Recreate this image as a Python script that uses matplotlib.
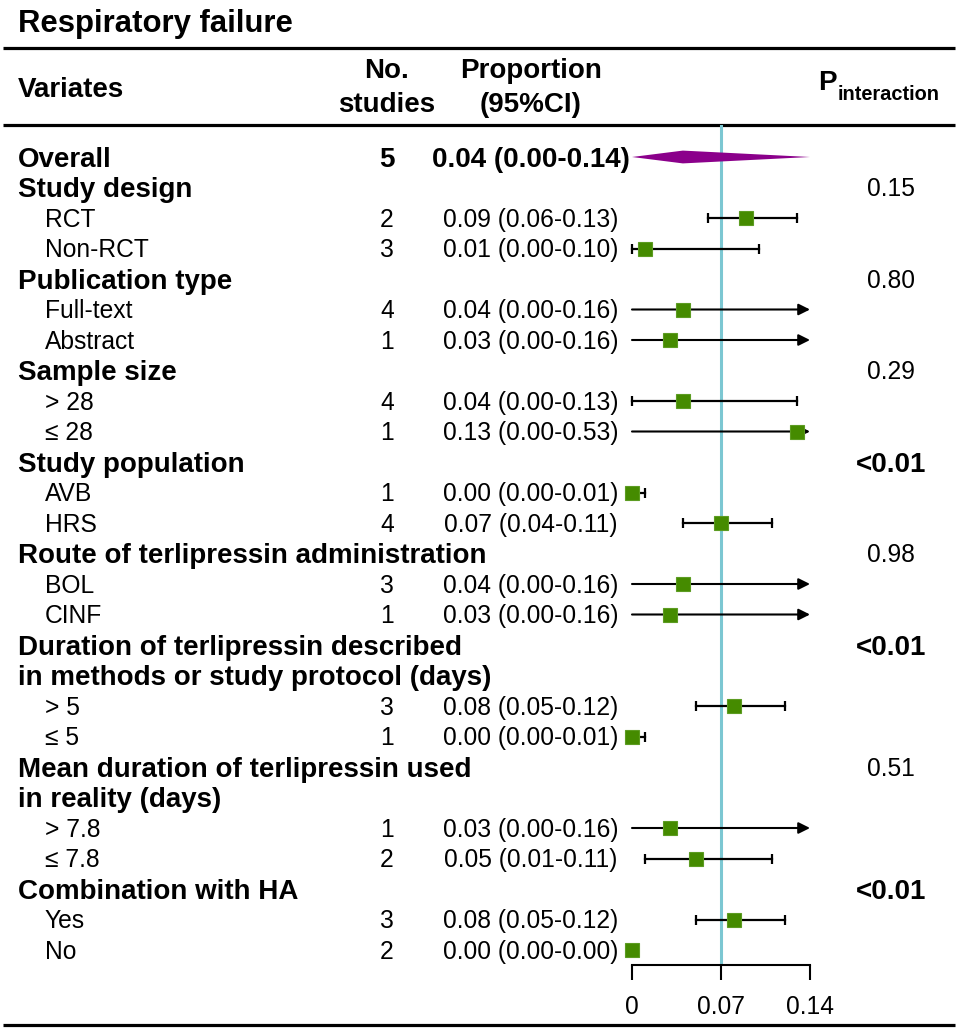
import matplotlib
matplotlib.use('Agg')
import matplotlib.pyplot as plt
from matplotlib.patches import Polygon

plt.rcParams['font.family'] = ['Liberation Sans', 'DejaVu Sans']

# ---------------- data ----------------
title = "Respiratory failure"
overall_label = "Overall"
overall_n = 5
overall_est, overall_lo, overall_hi = 0.04, 0.00, 0.14

groups = ["Study design", "Publication type", "Sample size", "Study population",
          "Route of terlipressin administration",
          "Duration of terlipressin described\nin methods or study protocol (days)",
          "Mean duration of terlipressin used\nin reality (days)",
          "Combination with HA"]
group_p = ["0.15", "0.80", "0.29", "<0.01", "0.98", "<0.01", "0.51", "<0.01"]
sub_labels = [["RCT", "Non-RCT"], ["Full-text", "Abstract"], ["> 28", "≤ 28"],
              ["AVB", "HRS"], ["BOL", "CINF"], ["> 5", "≤ 5"], ["> 7.8", "≤ 7.8"],
              ["Yes", "No"]]
sub_n = [[2, 3], [4, 1], [4, 1], [1, 4], [3, 1], [3, 1], [1, 2], [3, 2]]
sub_est = [[0.09, 0.01], [0.04, 0.03], [0.04, 0.13], [0.00, 0.07],
           [0.04, 0.03], [0.08, 0.00], [0.03, 0.05], [0.08, 0.00]]
sub_lo = [[0.06, 0.00], [0.00, 0.00], [0.00, 0.00], [0.00, 0.04],
          [0.00, 0.00], [0.05, 0.00], [0.00, 0.01], [0.05, 0.00]]
sub_hi = [[0.13, 0.10], [0.16, 0.16], [0.13, 0.53], [0.01, 0.11],
          [0.16, 0.16], [0.12, 0.01], [0.16, 0.11], [0.12, 0.00]]
xticks = [0, 0.07, 0.14]
xtick_labels = ["0", "0.07", "0.14"]
ref_value = 0.07
x_min, x_max = 0.0, 0.14

# ---------------- layout ----------------
W, H = 960, 1034
ROW0, ROWH = 157, 30.5
FS_N, FS_B, FS_T = 17.7, 20.0, 22.4
X_GROUP, X_SUB, X_N, X_PROP, X_P = 18, 45, 387, 531, 891
AX_L, AX_R, AX_T, AX_B = 632, 810, 125, 965
SQ = '#458B00'
DIAM = '#8B008B'
REF = '#7cc7d2'

fig = plt.figure(figsize=(W / 100, H / 100), dpi=100)
bg = fig.add_axes([0, 0, 1, 1])
bg.set_xlim(0, W)
bg.set_ylim(H, 0)
bg.axis('off')

ax = fig.add_axes([AX_L / W, 1 - AX_B / H, (AX_R - AX_L) / W, (AX_B - AX_T) / H])
ax.set_xlim(x_min, x_max)
ax.set_ylim((AX_B - ROW0) / ROWH, (AX_T - ROW0) / ROWH)
ax.patch.set_alpha(0)
for s in ['top', 'left', 'right']:
    ax.spines[s].set_visible(False)
ax.spines['bottom'].set_linewidth(1.5)
ax.spines['bottom'].set_bounds(x_min, x_max)
ax.set_yticks([])
ax.set_xticks(xticks)
ax.set_xticklabels(xtick_labels)
ax.tick_params(axis='x', length=10.8, width=1.5, pad=10.5, labelsize=FS_N)
ax.axvline(ref_value, color=REF, lw=2.2, zorder=0)


def ypix(i):
    return ROW0 + ROWH * i


def txt(x, i, s, bold=False, ha='left'):
    fs = FS_B if bold else FS_N
    off = (fs * 100 / 72) * 0.716 / 2
    bg.text(x, ypix(i) + off, s, fontsize=fs, fontweight='bold' if bold else 'normal',
            ha=ha, va='baseline', color='black')


def fmt(e, l, h):
    return f"{e:.2f} ({l:.2f}-{h:.2f})"


# header
bg.text(X_GROUP, 32, title, fontsize=FS_T, fontweight='bold', va='baseline')
for yy in (48, 125, 1025):
    bg.plot([3, 955], [yy, yy], color='black', lw=2.3, solid_capstyle='butt')
bg.text(X_GROUP, 97, "Variates", fontsize=FS_B, fontweight='bold', va='baseline')
bg.text(X_N, 78, "No.", fontsize=FS_B, fontweight='bold', ha='center', va='baseline')
bg.text(X_N, 112, "studies", fontsize=FS_B, fontweight='bold', ha='center', va='baseline')
bg.text(X_PROP, 78, "Proportion", fontsize=FS_B, fontweight='bold', ha='center', va='baseline')
bg.text(X_PROP, 112, "(95%CI)", fontsize=FS_B, fontweight='bold', ha='center', va='baseline')
bg.text(818, 90, "P", fontsize=FS_B, fontweight='bold', va='baseline')
bg.text(838, 100, "interaction", fontsize=14.4, fontweight='bold', va='baseline')

# overall
txt(X_GROUP, 0, overall_label, bold=True)
txt(X_N, 0, str(overall_n), bold=True, ha='center')
txt(X_PROP, 0, fmt(overall_est, overall_lo, overall_hi), bold=True, ha='center')
hh = 0.21
ax.add_patch(Polygon([(overall_lo, 0), (overall_est, -hh), (overall_hi, 0), (overall_est, hh)],
                     closed=True, facecolor=DIAM, edgecolor='none', zorder=3, clip_on=False))

row = 1
for g, lab in enumerate(groups):
    lines = lab.split('\n')
    for k, ln in enumerate(lines):
        txt(X_GROUP, row + k, ln, bold=True)
    p = group_p[g]
    txt(X_P, row, p, bold=p.startswith('<'), ha='center')
    row += len(lines)
    for j, sl in enumerate(sub_labels[g]):
        e, l, h = sub_est[g][j], sub_lo[g][j], sub_hi[g][j]
        txt(X_SUB, row, sl)
        txt(X_N, row, str(sub_n[g][j]), ha='center')
        txt(X_PROP, row, fmt(e, l, h), ha='center')
        if h > x_max:
            ax.annotate("", xy=(x_max, row), xytext=(l, row),
                        arrowprops=dict(arrowstyle='-|>', lw=1.5, color='black',
                                        mutation_scale=17, shrinkA=0, shrinkB=0),
                        annotation_clip=False, zorder=2)
        elif h > l:
            ax.plot([l, h], [row, row], color='black', lw=1.6, zorder=2, clip_on=False)
            ax.plot([l, h], [row, row], ls='none', marker='|', ms=7, mew=1.6,
                    color='black', zorder=2, clip_on=False)
        ax.plot([e], [row], marker='s', ms=9.4, mfc=SQ, mec='#5c9c22', mew=0.8,
                ls='none', zorder=4, clip_on=False)
        row += 1

fig.savefig('out.png', dpi=100)
